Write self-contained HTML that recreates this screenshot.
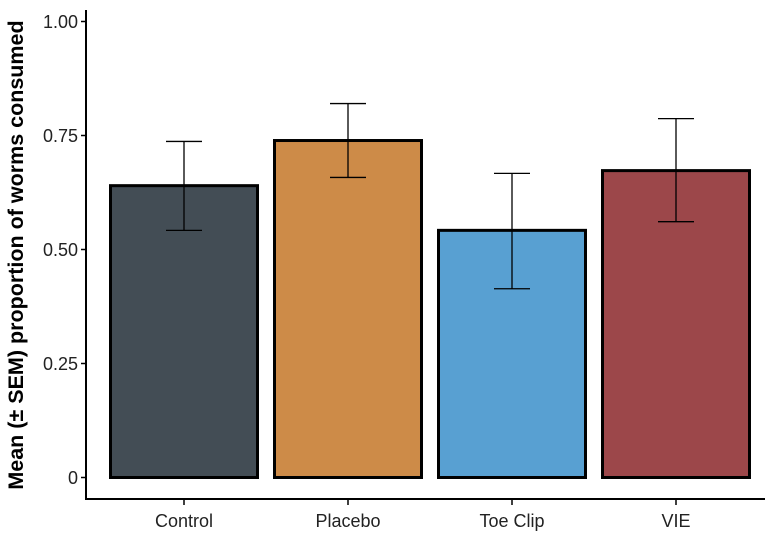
<!DOCTYPE html>
<html><head><meta charset="utf-8"><style>
body{margin:0;background:#fff;}
svg{display:block;font-family:"Liberation Sans",Arial,sans-serif;}
</style></head><body>
<svg id="chart" width="775" height="533" viewBox="0 0 775 533">
<g id="plot"></g>
</svg>
<script>
const categories = ["Control","Placebo","Toe Clip","VIE"];
const means = [0.640, 0.739, 0.542, 0.673];
const upper = [0.737, 0.820, 0.667, 0.787];
const lower = [0.542, 0.658, 0.414, 0.561];
const colors = ["#434d55","#cd8b48","#58a0d2","#9c474a"];
const yTicks = [0, 0.25, 0.5, 0.75, 1.0];
const yTickLabels = ["0","0.25","0.50","0.75","1.00"];

const NS = "http://www.w3.org/2000/svg";
const g = document.getElementById("plot");
const y0 = 477.5, yScale = 456;
function y(v){ return y0 - v*yScale; }
function xc(i){ return 184 + i*164; }
const barW = 147;
function mk(tag, attrs, parent){
  const e = document.createElementNS(NS, tag);
  for (const k in attrs) e.setAttribute(k, attrs[k]);
  (parent||g).appendChild(e); return e;
}
let ax = mk("line",{x1:86,y1:10,x2:86,y2:499.5,stroke:"#000","stroke-width":2});


ax = mk("line",{x1:85,y1:499,x2:765,y2:499,stroke:"#000","stroke-width":2});


yTicks.forEach((t,i)=>{
  const tk = mk("line",{x1:81,y1:y(t),x2:86,y2:y(t),stroke:"#000","stroke-width":1.5});
  
  
  const tx = mk("text",{x:78,y:y(t)+6.5,"text-anchor":"end","font-size":18,fill:"#222"});
  tx.textContent = yTickLabels[i];
  
  
});
categories.forEach((c,i)=>{
  const x = xc(i);
  const r = mk("rect",{x:x-barW/2,y:y(means[i]),width:barW,height:y(0)-y(means[i]),fill:colors[i],stroke:"#000","stroke-width":3});
  
  
  const eg = mk("g",{stroke:"#000","stroke-width":1.3});
  
  
  mk("line",{x1:x,y1:y(upper[i]),x2:x,y2:y(lower[i])},eg);
  mk("line",{x1:x-18,y1:y(upper[i]),x2:x+18,y2:y(upper[i])},eg);
  mk("line",{x1:x-18,y1:y(lower[i]),x2:x+18,y2:y(lower[i])},eg);
  const tk = mk("line",{x1:x,y1:499,x2:x,y2:505,stroke:"#000","stroke-width":1.5});
  
  
  const tx = mk("text",{x:x,y:527,"text-anchor":"middle","font-size":18,fill:"#222"});
  tx.textContent = c;
  
  
});
const title = mk("text",{x:0,y:0,"text-anchor":"middle","font-size":21.5,"font-weight":"bold",fill:"#000",transform:"translate(23,255) rotate(-90)"});
title.textContent = "Mean (± SEM) proportion of worms consumed";


</script>
</body></html>
